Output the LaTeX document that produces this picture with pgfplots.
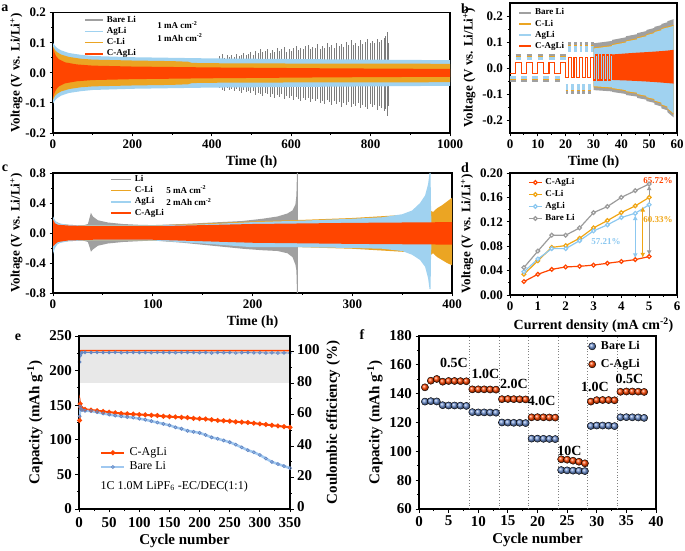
\documentclass[border=0pt]{standalone}
\usepackage{pgfplots}
\pgfplotsset{compat=1.18}
\usepackage{fontspec}
\setmainfont{Liberation Serif}
\usetikzlibrary{arrows.meta}
\definecolor{cagli}{RGB}{255,69,0}
\definecolor{cli}{RGB}{235,165,35}
\definecolor{agli}{RGB}{160,210,240}
\definecolor{bareli}{RGB}{160,160,160}
\definecolor{spk}{RGB}{125,125,125}
\definecolor{ebl}{RGB}{160,200,240}
\definecolor{ebm}{RGB}{100,135,195}
\definecolor{fbl}{RGB}{105,140,205}
\definecolor{dli}{RGB}{240,165,20}
\definecolor{dag}{RGB}{140,200,240}
\definecolor{dgr}{RGB}{155,155,155}
\newcommand{\myfs}[1]{\bfseries\fontsize{#1}{#1}\selectfont}
\pgfplotsset{
  fig/.style={scale only axis, anchor=south west,
    axis line style={line width=1.1pt},
    tick style={black, line width=0.9pt},
    tick align=outside, major tick length=3.5pt, minor tick length=2pt,
    xtick pos=left, ytick pos=left,
    tick label style={font=\myfs{13}},
    xlabel style={font=\myfs{14}},
    ylabel style={font=\myfs{13}},
    /pgf/number format/assume math mode=true,
    /pgf/number format/1000 sep={},
    legend cell align=left},
  big/.style={tick label style={font=\myfs{15}}, xlabel style={font=\myfs{15}}, ylabel style={font=\myfs{15}}},
  leg/.style={legend style={draw=none, fill=none, font=\myfs{9}, anchor=north west,
    nodes={inner sep=0pt, text height=6.5pt, text depth=2pt},
    row sep=2.6pt, column sep=3pt}},
  lineleg/.style={legend image code/.code={\draw[##1] (0pt,0pt) -- (#1,0pt);}},
  p1/.style={yticklabel style={/pgf/number format/fixed, /pgf/number format/fixed zerofill, /pgf/number format/precision=1}},
}
\begin{document}
\begin{tikzpicture}
\path[use as bounding box] (0,0) rectangle (685pt,551pt);
% ---------------- panel a
\begin{axis}[fig, p1, at={(53pt,418pt)}, width=397pt, height=120.3pt,
  xmin=0, xmax=1000, ymin=-0.2, ymax=0.2,
  xtick={0,200,400,600,800,1000}, ytick={-0.2,-0.1,0,0.1,0.2},
  minor x tick num=1, minor y tick num=1,
  xlabel={Time (h)}, ylabel={Voltage (V vs. Li/Li\textsuperscript{+})},
  ylabel style={yshift=-4pt},
  leg, legend style={at={(0.07,0.99)}}, lineleg=18pt]
\addlegendimage{bareli, line width=1.8pt}\addlegendentry{Bare Li}
\addlegendimage{agli, line width=1.8pt}\addlegendentry{AgLi}
\addlegendimage{cli, line width=1.8pt}\addlegendentry{C-Li}
\addlegendimage{cagli, line width=1.8pt}\addlegendentry{C-AgLi}
\addplot[ycomb, spk, line width=0.5pt, forget plot] coordinates {
(420,.055)(426,.062)(432,.050)(438,.058)(444,.052)(450,.060)(456,.054)(462,.063)(468,.057)(474,.061)
(480,.066)(486,.058)(492,.064)(498,.070)(504,.060)(510,.074)(516,.065)(522,.078)(528,.068)(534,.072)
(540,.080)(546,.066)(552,.075)(558,.070)(564,.083)(570,.072)(576,.078)(582,.086)(588,.070)(594,.080)
(600,.074)(606,.082)(612,.090)(618,.076)(624,.084)(630,.079)(636,.088)(642,.092)(648,.078)(654,.086)
(660,.082)(666,.095)(672,.080)(678,.088)(684,.084)(690,.098)(696,.086)(702,.092)(708,.082)(714,.100)
(720,.090)(726,.096)(732,.086)(738,.104)(744,.092)(750,.110)(756,.094)(762,.100)(768,.090)(774,.108)
(780,.096)(786,.104)(792,.112)(798,.098)(804,.106)(810,.100)(816,.114)(822,.104)(828,.110)(834,.116)
(838,.124)(842,.135)(845,.100)};
\addplot[ycomb, spk, line width=0.5pt, forget plot] coordinates {
(420,-.050)(426,-.056)(432,-.060)(438,-.052)(444,-.058)(450,-.054)(456,-.062)(462,-.055)(468,-.060)(474,-.066)
(480,-.058)(486,-.064)(492,-.060)(498,-.068)(504,-.062)(510,-.074)(516,-.066)(522,-.070)(528,-.078)(534,-.066)
(540,-.072)(546,-.080)(552,-.070)(558,-.085)(564,-.074)(570,-.080)(576,-.072)(582,-.088)(588,-.078)(594,-.084)
(600,-.076)(606,-.090)(612,-.080)(618,-.086)(624,-.094)(630,-.082)(636,-.090)(642,-.084)(648,-.098)(654,-.088)
(660,-.094)(666,-.086)(672,-.100)(678,-.092)(684,-.104)(690,-.090)(696,-.098)(702,-.108)(708,-.094)(714,-.102)
(720,-.096)(726,-.112)(732,-.100)(738,-.106)(744,-.098)(750,-.115)(756,-.104)(762,-.110)(768,-.100)(774,-.118)
(780,-.106)(786,-.112)(792,-.120)(798,-.104)(804,-.114)(810,-.108)(816,-.122)(822,-.110)(828,-.118)(834,-.126)
(838,-.120)(842,-.145)(845,-.110)};
\addplot[fill=agli, draw=none, forget plot] coordinates {
(0,0.100)(5,0.090)(10,0.083)(20,0.075)(40,0.066)(70,0.060)(100,0.056)(150,0.054)(200,0.052)(300,0.050)(400,0.048)(500,0.047)(600,0.046)(700,0.045)(800,0.044)(900,0.043)(1000,0.042)
(1000,-0.043)(900,-0.044)(800,-0.045)(700,-0.046)(600,-0.047)(500,-0.048)(400,-0.049)(300,-0.051)(200,-0.053)(150,-0.055)(100,-0.057)(70,-0.061)(40,-0.067)(20,-0.076)(10,-0.085)(5,-0.092)(0,-0.102)};
\addplot[fill=cli, draw=none, forget plot] coordinates {
(0,0.088)(5,0.076)(10,0.069)(20,0.061)(40,0.053)(70,0.047)(100,0.044)(200,0.041)(300,0.039)(340,0.037)(350,0.033)(400,0.032)(600,0.031)(800,0.031)(1000,0.030)
(1000,-0.031)(800,-0.032)(600,-0.032)(400,-0.033)(350,-0.034)(340,-0.038)(300,-0.040)(200,-0.042)(100,-0.045)(70,-0.048)(40,-0.054)(20,-0.062)(10,-0.070)(5,-0.077)(0,-0.090)};
\addplot[fill=cagli, draw=none, forget plot] coordinates {
(0,0.085)(3,0.070)(8,0.055)(15,0.045)(30,0.035)(60,0.028)(100,0.024)(200,0.021)(400,0.018)(700,0.015)(1000,0.013)
(1000,-0.013)(700,-0.015)(400,-0.018)(200,-0.021)(100,-0.024)(60,-0.028)(30,-0.035)(15,-0.045)(8,-0.055)(3,-0.070)(0,-0.085)};
\node[anchor=west, font=\myfs{9}] at (axis cs:254,0.159) {1 mA cm\textsuperscript{-2}};
\node[anchor=west, font=\myfs{9}] at (axis cs:254,0.116) {1 mAh cm\textsuperscript{-2}};
\end{axis}
% ---------------- panel b
\begin{axis}[fig, p1, at={(510pt,418pt)}, width=167pt, height=130pt,
  xmin=0, xmax=60, ymin=-0.25, ymax=0.25,
  xtick={0,10,20,30,40,50,60}, ytick={-0.2,-0.1,0,0.1,0.2},
  minor x tick num=1, minor y tick num=1,
  xlabel={Time (h)}, ylabel={Voltage (V vs. Li/Li\textsuperscript{+})},
  leg, legend style={at={(0.03,0.975)}}, lineleg=12pt]
\addlegendimage{bareli, line width=1.8pt}\addlegendentry{Bare Li}
\addlegendimage{cli, line width=1.8pt}\addlegendentry{C-Li}
\addlegendimage{agli, line width=1.8pt}\addlegendentry{AgLi}
\addlegendimage{cagli, line width=1.8pt}\addlegendentry{C-AgLi}
\addplot[bareli, line width=3.6pt, unbounded coords=jump, forget plot] coordinates {
(0,-0.047)(2,-0.047)(2,nan)(2,0.047)(4,0.047)(4,nan)(4,-0.047)(6,-0.047)(6,nan)(6,0.047)(8,0.047)(8,nan)(8,-0.047)(10,-0.047)(10,nan)(10,0.047)(12,0.047)(12,nan)(12,-0.047)(14,-0.047)(14,nan)(14,0.047)(16,0.047)(16,nan)(16,-0.047)(18,-0.047)(18,nan)(18,0.047)(20,0.047)};
\addplot[bareli, line width=3.9pt, unbounded coords=jump, forget plot] coordinates {
(20,-0.0925)(21,-0.0925)(21,nan)(21,0.0925)(22,0.0925)(22,nan)(22,-0.0925)(23,-0.0925)(23,nan)(23,0.0925)(24,0.0925)(24,nan)(24,-0.0925)(25,-0.0925)(25,nan)(25,0.0925)(26,0.0925)(26,nan)(26,-0.0925)(27,-0.0925)(27,nan)(27,0.0925)(28,0.0925)(28,nan)(28,-0.0925)(29,-0.0925)(29,nan)(29,0.0925)(30,0.0925)};
\addplot[cli, line width=0.9pt, unbounded coords=jump, forget plot] coordinates {
(0,-0.0445)(2,-0.0445)(2,nan)(2,0.0445)(4,0.0445)(4,nan)(4,-0.0445)(6,-0.0445)(6,nan)(6,0.0445)(8,0.0445)(8,nan)(8,-0.0445)(10,-0.0445)(10,nan)(10,0.0445)(12,0.0445)(12,nan)(12,-0.0445)(14,-0.0445)(14,nan)(14,0.0445)(16,0.0445)(16,nan)(16,-0.0445)(18,-0.0445)(18,nan)(18,0.0445)(20,0.0445)};
\addplot[cli, line width=0.9pt, unbounded coords=jump, forget plot] coordinates {
(20,-0.085)(21,-0.085)(21,nan)(21,0.085)(22,0.085)(22,nan)(22,-0.085)(23,-0.085)(23,nan)(23,0.085)(24,0.085)(24,nan)(24,-0.085)(25,-0.085)(25,nan)(25,0.085)(26,0.085)(26,nan)(26,-0.085)(27,-0.085)(27,nan)(27,0.085)(28,0.085)(28,nan)(28,-0.085)(29,-0.085)(29,nan)(29,0.085)(30,0.085)};
\addplot[agli, line width=3.6pt, unbounded coords=jump, forget plot] coordinates {
(0,-0.036)(2,-0.036)(2,nan)(2,0.036)(4,0.036)(4,nan)(4,-0.036)(6,-0.036)(6,nan)(6,0.036)(8,0.036)(8,nan)(8,-0.036)(10,-0.036)(10,nan)(10,0.036)(12,0.036)(12,nan)(12,-0.036)(14,-0.036)(14,nan)(14,0.036)(16,0.036)(16,nan)(16,-0.036)(18,-0.036)(18,nan)(18,0.036)(20,0.036)};
\addplot[agli, line width=5.9pt, unbounded coords=jump, forget plot] coordinates {
(20,-0.0715)(21,-0.0715)(21,nan)(21,0.0715)(22,0.0715)(22,nan)(22,-0.0715)(23,-0.0715)(23,nan)(23,0.0715)(24,0.0715)(24,nan)(24,-0.0715)(25,-0.0715)(25,nan)(25,0.0715)(26,0.0715)(26,nan)(26,-0.0715)(27,-0.0715)(27,nan)(27,0.0715)(28,0.0715)(28,nan)(28,-0.0715)(29,-0.0715)(29,nan)(29,0.0715)(30,0.0715)};
\addplot[fill=bareli, draw=none, forget plot] coordinates {
(30,0.095)(36.67,0.104)(36.67,0.108)(41.67,0.118)(41.67,0.122)(45.67,0.130)(45.67,0.134)(49,0.142)(49,0.146)(51.86,0.154)(51.86,0.158)(54.36,0.165)(54.36,0.169)(56.58,0.176)(56.58,0.180)(58.8,0.188)
(58.8,-0.190)(56.58,-0.170)(56.58,-0.163)(54.36,-0.155)(54.36,-0.148)(51.86,-0.140)(51.86,-0.134)(49,-0.127)(49,-0.122)(45.67,-0.115)(45.67,-0.110)(41.67,-0.104)(41.67,-0.100)(36.67,-0.092)(36.67,-0.090)(30,-0.085)};
\addplot[fill=cli, draw=none, forget plot] coordinates {
(30,0.079)(36.67,0.088)(36.67,0.092)(41.67,0.102)(41.67,0.106)(45.67,0.114)(45.67,0.118)(49,0.126)(49,0.130)(51.86,0.138)(51.86,0.142)(54.36,0.149)(54.36,0.153)(56.58,0.160)(56.58,0.159)(58.8,0.166)
(58.8,-0.179)(56.58,-0.159)(56.58,-0.152)(54.36,-0.144)(54.36,-0.137)(51.86,-0.129)(51.86,-0.123)(49,-0.116)(49,-0.111)(45.67,-0.104)(45.67,-0.099)(41.67,-0.093)(41.67,-0.089)(36.67,-0.081)(36.67,-0.079)(30,-0.074)};
\addplot[fill=agli, draw=none, forget plot] coordinates {
(30,0.075)(36.67,0.084)(36.67,0.088)(41.67,0.098)(41.67,0.102)(45.67,0.110)(45.67,0.114)(49,0.122)(49,0.126)(51.86,0.134)(51.86,0.138)(54.36,0.145)(54.36,0.149)(56.58,0.156)(56.58,0.155)(58.8,0.162)
(58.8,-0.175)(56.58,-0.155)(56.58,-0.148)(54.36,-0.140)(54.36,-0.133)(51.86,-0.125)(51.86,-0.119)(49,-0.112)(49,-0.107)(45.67,-0.100)(45.67,-0.095)(41.67,-0.089)(41.67,-0.085)(36.67,-0.077)(36.67,-0.075)(30,-0.070)};
\addplot[cagli, line width=1.1pt, const plot, forget plot] coordinates {
(0,-0.021)(2,0.022)(4,-0.021)(6,0.022)(8,-0.021)(10,0.022)(12,-0.021)(14,0.022)(16,-0.021)(18,0.022)
(20,-0.037)(21,0.040)(22,-0.037)(23,0.040)(24,-0.037)(25,0.040)(26,-0.037)(27,0.040)(28,-0.037)(29,0.040)
(30,-0.046)(30.67,0.050)(31.33,-0.046)(32,0.050)(32.67,-0.046)(33.33,0.050)(34,-0.046)(34.67,0.050)(35.33,-0.046)(36,0.050)(36.67,0.050)};
\addplot[fill=cagli, draw=none, forget plot] coordinates {
(36.67,0.052)(41.67,0.056)(45.67,0.059)(49,0.061)(51.86,0.063)(54.36,0.065)(56.58,0.067)(58.8,0.070)
(58.8,-0.060)(56.58,-0.058)(54.36,-0.056)(51.86,-0.054)(49,-0.052)(45.67,-0.050)(41.67,-0.048)(36.67,-0.046)};
\end{axis}
% ---------------- panel c
\begin{axis}[fig, p1, at={(53pt,258pt)}, width=399pt, height=120pt,
  xmin=0, xmax=400, ymin=-0.8, ymax=0.8,
  xtick={0,100,200,300,400}, ytick={-0.8,-0.4,0,0.4,0.8},
  minor x tick num=1, minor y tick num=1,
  xlabel={Time (h)}, ylabel={Voltage (V vs. Li/Li\textsuperscript{+})},
  ylabel style={yshift=-4pt},
  leg, legend style={at={(0.135,1.0)}}, lineleg=20pt]
\addlegendimage{bareli, line width=1.8pt}\addlegendentry{Li}
\addlegendimage{cli, line width=1.8pt}\addlegendentry{C-Li}
\addlegendimage{agli, line width=1.8pt}\addlegendentry{AgLi}
\addlegendimage{cagli, line width=1.8pt}\addlegendentry{C-AgLi}
\addplot[fill=bareli, draw=none, forget plot] coordinates {
(0,0.20)(3,0.15)(8,0.12)(15,0.11)(30,0.10)(35,0.12)(37,0.22)(38,0.27)(40,0.22)(45,0.17)(55,0.14)(70,0.12)(85,0.11)(100,0.105)(130,0.12)(160,0.14)(190,0.16)(210,0.19)(225,0.22)(235,0.26)(240,0.30)(243,0.38)(244,0.50)(244.6,0.80)(245.4,0.80)
(245.4,-0.80)(244.6,-0.80)(244,-0.50)(243,-0.42)(240,-0.32)(235,-0.27)(225,-0.24)(210,-0.23)(190,-0.21)(160,-0.17)(130,-0.13)(100,-0.10)(85,-0.11)(70,-0.12)(55,-0.14)(45,-0.17)(40,-0.22)(38,-0.25)(37,-0.20)(35,-0.12)(30,-0.10)(15,-0.11)(8,-0.12)(3,-0.16)(0,-0.22)};
\addplot[fill=cli, draw=none, forget plot] coordinates {
(0,0.13)(20,0.10)(100,0.10)(120,0.11)(150,0.125)(200,0.155)(250,0.175)(300,0.20)(350,0.24)(377,0.27)(378,0.30)(381,0.28)(385,0.33)(390,0.37)(395,0.42)(400,0.47)
(400,-0.43)(395,-0.40)(390,-0.36)(385,-0.32)(381,-0.27)(378,-0.30)(377,-0.27)(350,-0.25)(300,-0.21)(250,-0.19)(200,-0.16)(150,-0.13)(120,-0.11)(100,-0.10)(20,-0.10)(0,-0.13)};
\addplot[fill=agli, draw=none, forget plot] coordinates {
(0,0.22)(2,0.17)(5,0.13)(15,0.11)(30,0.10)(100,0.10)(150,0.115)(200,0.145)(250,0.165)(300,0.19)(330,0.21)(350,0.25)(360,0.30)(368,0.40)(373,0.50)(376,0.65)(377.5,0.80)(378.5,0.80)(379,0.30)(379.5,0.10)
(379.5,-0.10)(379,-0.30)(378.5,-0.75)(377.5,-0.75)(376,-0.60)(373,-0.45)(368,-0.36)(360,-0.29)(350,-0.24)(330,-0.21)(300,-0.20)(250,-0.19)(200,-0.19)(150,-0.14)(100,-0.10)(30,-0.10)(15,-0.11)(5,-0.14)(2,-0.20)(0,-0.28)};
\addplot[fill=cagli, draw=none, forget plot] coordinates {
(0,0.18)(2,0.13)(5,0.11)(15,0.10)(40,0.09)(100,0.09)(150,0.105)(200,0.12)(300,0.135)(400,0.145)
(400,-0.155)(300,-0.145)(200,-0.13)(150,-0.11)(100,-0.09)(40,-0.09)(15,-0.10)(5,-0.12)(2,-0.15)(0,-0.18)};
\node[anchor=west, font=\myfs{9}] at (axis cs:110,0.575) {5 mA cm\textsuperscript{-2}};
\node[anchor=west, font=\myfs{9}] at (axis cs:110,0.413) {2 mAh cm\textsuperscript{-2}};
\end{axis}
% ---------------- panel d
\begin{axis}[fig, at={(510pt,256pt)}, width=167pt, height=122pt,
  xmin=0, xmax=6, ymin=0, ymax=0.2,
  xtick={0,1,2,3,4,5,6}, ytick={0,0.04,0.08,0.12,0.16,0.2},
  minor x tick num=1, minor y tick num=1,
  yticklabel style={/pgf/number format/fixed, /pgf/number format/fixed zerofill, /pgf/number format/precision=2},
  xlabel={Current density (mA cm\textsuperscript{-2})}, ylabel={Voltage (V vs. Li/Li\textsuperscript{+})},
  leg, legend style={at={(0.09,0.975)}, row sep=3.5pt},
  legend image code/.code={\draw[mark repeat=2,mark phase=2,#1] plot coordinates {(0pt,0pt)(6.5pt,0pt)(13pt,0pt)};}]
\addplot[cagli, line width=1.2pt, mark=*, mark size=1.9pt, mark options={fill=white}] coordinates {
(0.5,0.022)(1,0.034)(1.5,0.042)(2,0.046)(2.5,0.047)(3,0.049)(3.5,0.052)(4,0.055)(4.5,0.058)(5,0.063)};
\addlegendentry{C-AgLi}
\addplot[dli, line width=1.2pt, mark=*, mark size=1.9pt, mark options={fill=white}] coordinates {
(0.5,0.034)(1,0.056)(1.5,0.078)(2,0.081)(2.5,0.093)(3,0.110)(3.5,0.122)(4,0.135)(4.5,0.146)(5,0.160)};
\addlegendentry{C-Li}
\addplot[dag, line width=1.2pt, mark=*, mark size=1.9pt, mark options={fill=white}] coordinates {
(0.5,0.038)(1,0.059)(1.5,0.076)(2,0.076)(2.5,0.089)(3,0.105)(3.5,0.115)(4,0.127)(4.5,0.134)(5,0.148)};
\addlegendentry{AgLi}
\addplot[dgr, line width=1.2pt, mark=*, mark size=1.9pt, mark options={fill=white}] coordinates {
(0.5,0.045)(1,0.072)(1.5,0.098)(2,0.098)(2.5,0.110)(3,0.135)(3.5,0.145)(4,0.160)(4.5,0.171)(5,0.182)};
\addlegendentry{Bare Li}
\addplot[dag, line width=1.3pt, {Latex[length=5pt,width=5pt]}-{Latex[length=5pt,width=5pt]}, forget plot] coordinates {(4.5,0.131)(4.5,0.060)};
\addplot[dli, line width=1.3pt, {Latex[length=5pt,width=5pt]}-{Latex[length=5pt,width=5pt]}, forget plot] coordinates {(4.77,0.145)(4.77,0.061)};
\addplot[dgr, line width=1.3pt, {Latex[length=5pt,width=5pt]}-{Latex[length=5pt,width=5pt]}, forget plot] coordinates {(5,0.180)(5,0.065)};
\node[font=\myfs{9}, text=cagli] at (axis cs:5.32,0.187) {65.72\%};
\node[font=\myfs{9}, text=dli] at (axis cs:5.32,0.123) {60.33\%};
\node[font=\myfs{9}, text=dag] at (axis cs:3.45,0.087) {57.21\%};
\end{axis}
% ---------------- panel e (right axis)
\begin{axis}[fig, big, at={(79pt,42pt)}, width=211pt, height=173pt,
  xmin=0, xmax=350, ymin=0, ymax=110,
  axis x line=none, axis y line*=right, ytick pos=right, yticklabel pos=right,
  ytick={0,20,40,60,80,100}, minor y tick num=1,
  yticklabel style={yshift=2pt},
  ylabel={Coulombic efficiency (\%)}]
\addplot[fill=black!9, draw=none] coordinates {(0,80)(350,80)(350,110)(0,110)};
\addplot[cagli, line width=1.5pt] coordinates {(1,99)(2,100.4)(3,100.7)(350,100.7)};
\addplot[ebm, line width=0.8pt, mark=o, mark size=1.4pt] coordinates {
(1,93.5)(2,97.5)(3,99.0)(5,99.4)(10,99.6)(20,99.5)(30,99.6)(40,99.5)(50,99.5)(60,99.6)(70,99.4)(80,99.5)(90,99.6)(100,99.5)(110,99.5)(120,99.4)(130,99.6)(140,99.5)(150,99.5)(160,99.4)(170,99.5)(180,99.6)(190,99.5)(200,99.4)(210,99.5)(220,99.2)(230,99.5)(240,99.4)(250,99.5)(260,99.2)(270,99.4)(280,99.5)(290,99.3)(300,99.4)(310,99.2)(320,99.3)(330,99.2)(340,99.3)(350,99.2)};
\end{axis}
% ---------------- panel e (left axis)
\begin{axis}[fig, big, at={(79pt,42pt)}, width=211pt, height=173pt,
  xmin=0, xmax=350, ymin=0, ymax=250,
  xtick={0,50,100,150,200,250,300,350}, ytick={0,50,100,150,200,250},
  minor x tick num=1, minor y tick num=1,
  xticklabel style={yshift=-1.5pt},
  xlabel={Cycle number}, ylabel={Capacity (mAh g\textsuperscript{-1})},
  legend style={at={(0.085,0.37)}, anchor=north west, draw=none, fill=none, font=\fontsize{12}{12}\selectfont,
    nodes={inner sep=0pt, text height=8.5pt, text depth=2.5pt}, row sep=3.3pt, column sep=4pt},
  legend image code/.code={\draw[mark repeat=2,mark phase=2,#1] plot coordinates {(0pt,0pt)(11.5pt,0pt)(23pt,0pt)};}]
\addplot[cagli, line width=2pt, mark=*, mark size=1.3pt] coordinates {
(1,128)(2,152)(3,147)(5,145)(10,144)(20,143)(30,142)(40,141)(50,140)(60,139)(70,138)(80,137.5)(90,137)(100,136.5)(110,136)(120,135.5)(130,135)(140,134)(150,133.5)(160,133)(170,132.5)(180,132)(190,131)(200,130.5)(210,130)(220,129)(230,128)(240,127.5)(250,127)(260,126)(270,125.5)(280,125)(290,124)(300,123)(310,122)(320,121)(330,120)(340,119)(350,118)};
\addlegendentry{C-AgLi}
\addplot[ebl, line width=2.5pt, mark=o, mark size=1.5pt, mark options={ebm, line width=0.8pt}] coordinates {
(1,134)(2,148)(3,144)(5,143)(10,142)(20,141.5)(30,140)(40,138)(50,136.5)(60,135)(70,134)(80,133)(90,132)(100,130.5)(110,129)(120,127)(130,125)(140,123)(150,121)(160,118)(170,116)(180,113)(190,111.5)(200,110)(210,107)(220,103.5)(230,101.5)(240,99)(250,96.5)(260,93)(270,89)(280,85)(290,82)(300,78)(310,73)(320,68)(330,65)(340,62)(350,59)};
\addlegendentry{Bare Li}
\node[anchor=west, font=\fontsize{12}{12}\selectfont] at (axis cs:30,33) {1C 1.0M LiPF\textsubscript{6} -EC/DEC(1:1)};
\end{axis}
% ---------------- panel f
\begin{axis}[fig, big, at={(419pt,42pt)}, width=237pt, height=173pt,
  xmin=0, xmax=40, ymin=60, ymax=180,
  xtick={0,5,10,15,20,25,30,35,40}, ytick={60,80,100,120,140,160,180},
  minor x tick num=1, minor y tick num=1,
  xlabel={Cycle number}, ylabel={Capacity (mAh g\textsuperscript{-1})},
  legend style={at={(0.945,0.985)}, anchor=north east, draw=none, fill=none, font=\myfs{12},
    nodes={inner sep=0pt, text height=8.5pt, text depth=2.5pt}, row sep=7pt, column sep=5pt}]
\addplot[gray, dotted, line width=0.8pt, forget plot] coordinates {(8.5,60)(8.5,180)};
\addplot[gray, dotted, line width=0.8pt, forget plot] coordinates {(13.5,60)(13.5,180)};
\addplot[gray, dotted, line width=0.8pt, forget plot] coordinates {(18.5,60)(18.5,180)};
\addplot[gray, dotted, line width=0.8pt, forget plot] coordinates {(23.5,60)(23.5,180)};
\addplot[gray, dotted, line width=0.8pt, forget plot] coordinates {(28.5,60)(28.5,180)};
\addplot[gray, dotted, line width=0.8pt, forget plot] coordinates {(33.5,60)(33.5,180)};
\addplot[only marks, mark=ball, mark size=3.6pt, ball color=fbl] coordinates {
(1,134.5)(2,134.8)(3,134.6)(4,132)(5,131.8)(6,131.8)(7,131.7)(8,131.5)(9,127.2)(10,127)(11,127)(12,126.9)(13,126.8)(14,120)(15,119.9)(16,119.8)(17,119.8)(18,119.6)(19,108.8)(20,108.8)(21,108.7)(22,108.6)(23,108.5)(24,87)(25,86.8)(26,86.6)(27,86.5)(28,86.3)(29,117.6)(30,117.9)(31,117.9)(32,117.8)(33,117.5)(34,123.6)(35,123.7)(36,123.6)(37,123.5)(38,123.2)};
\addlegendentry{Bare Li}
\addplot[only marks, mark=ball, mark size=3.6pt, ball color=cagli] coordinates {
(1,144.4)(2,149)(3,150.2)(4,148.3)(5,148.8)(6,148.8)(7,148.7)(8,148.6)(9,143)(10,143)(11,143)(12,142.9)(13,142.8)(14,136.2)(15,136.3)(16,136.2)(17,136.1)(18,136)(19,123.6)(20,123.7)(21,123.6)(22,123.5)(23,123.4)(24,94.5)(25,94.2)(26,93.5)(27,92.8)(28,91.7)(29,134.5)(30,135.5)(31,135.6)(32,135.6)(33,135.4)(34,141.3)(35,141.5)(36,141.5)(37,141.4)(38,141.2)};
\addlegendentry{C-AgLi}
\node[font=\myfs{14}] at (axis cs:5.9,161) {0.5C};
\node[font=\myfs{14}] at (axis cs:11.2,154) {1.0C};
\node[font=\myfs{14}] at (axis cs:16,147) {2.0C};
\node[font=\myfs{14}] at (axis cs:20.7,135) {4.0C};
\node[font=\myfs{14}] at (axis cs:25.4,100.5) {10C};
\node[font=\myfs{14}] at (axis cs:29.7,145) {1.0C};
\node[font=\myfs{14}] at (axis cs:35.5,150) {0.5C};
\end{axis}
% panel letters
\node[font=\myfs{14}] at (5pt,543pt) {a};
\node[font=\myfs{14}] at (465pt,542pt) {b};
\node[font=\myfs{14}] at (5pt,383pt) {c};
\node[font=\myfs{14}] at (465pt,383pt) {d};
\node[font=\myfs{14}] at (18pt,214pt) {e};
\node[font=\myfs{14}] at (362pt,216pt) {f};
\end{tikzpicture}
\end{document}
